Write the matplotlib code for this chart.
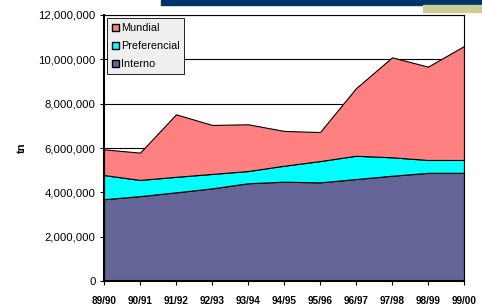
import matplotlib
matplotlib.use("Agg")
import matplotlib.pyplot as plt
from matplotlib.patches import Rectangle, Patch
import numpy as np

plt.rcParams['font.family'] = ['Liberation Sans', 'DejaVu Sans']

categories = ["89/90", "90/91", "91/92", "92/93", "93/94", "94/95",
              "95/96", "96/97", "97/98", "98/99", "99/00"]
interno = [3.69e6, 3.83e6, 4.00e6, 4.18e6, 4.41e6, 4.48e6, 4.45e6, 4.60e6, 4.75e6, 4.88e6, 4.88e6]
pref_top = [4.78e6, 4.56e6, 4.70e6, 4.83e6, 4.96e6, 5.20e6, 5.41e6, 5.65e6, 5.58e6, 5.46e6, 5.46e6]
total = [5.94e6, 5.79e6, 7.52e6, 7.04e6, 7.07e6, 6.77e6, 6.72e6, 8.70e6, 10.09e6, 9.67e6, 10.60e6]
preferencial = [p - i for p, i in zip(pref_top, interno)]
mundial = [t - p for t, p in zip(total, pref_top)]
yticks = [0, 2e6, 4e6, 6e6, 8e6, 10e6, 12e6]

fig = plt.figure(figsize=(4.82, 3.05), dpi=100)
fig.patches.append(Rectangle((161/482, 1 - 5/305), 1, 5/305, transform=fig.transFigure,
                             color='#003366', zorder=0))
fig.patches.append(Rectangle((423/482, 1 - 12/305), 1, 7/305, transform=fig.transFigure,
                             color='#cccc99', zorder=0))

ax = fig.add_axes([104/482, 24/305, 360/482, 266/305])
x = np.arange(len(categories))
colors = ['#646496', '#00ffff', '#ff8080']
ax.stackplot(x, interno, preferencial, mundial, colors=colors,
             edgecolor='black', linewidth=0.8, zorder=2)
ax.set_xlim(0, len(categories) - 1)
ax.set_ylim(0, 12e6)
ax.set_yticks(yticks)
ax.set_yticklabels([f"{int(v):,}" for v in yticks], fontsize=8.2)
ax.set_xticks(x)
ax.set_xticklabels(categories, fontsize=7.2, fontweight='bold')
ax.yaxis.grid(True, color='black', linewidth=0.8, zorder=1)
ax.set_axisbelow(True)
ax.tick_params(axis='both', length=3, width=0.8, direction='out', pad=3)
ax.tick_params(axis='x', pad=8)
for s in ax.spines.values():
    s.set_linewidth(0.8)
ax.spines['left'].set_linewidth(1.5)
ax.spines['bottom'].set_linewidth(1.5)
ax.set_ylabel("tn", fontsize=8, fontweight='bold', labelpad=8)

handles = [Patch(facecolor=colors[2], edgecolor='black', label='Mundial'),
           Patch(facecolor=colors[1], edgecolor='black', label='Preferencial'),
           Patch(facecolor=colors[0], edgecolor='black', label='Interno')]
leg = ax.legend(handles=handles, loc='upper left', fontsize=7.8, fancybox=False,
                framealpha=1, facecolor='#efefef', edgecolor='black',
                handlelength=0.6, handleheight=0.6, handletextpad=0.2,
                borderpad=0.45, labelspacing=0.75, borderaxespad=0.3)
leg.get_frame().set_linewidth(0.6)

fig.savefig("out.png", dpi=100)
